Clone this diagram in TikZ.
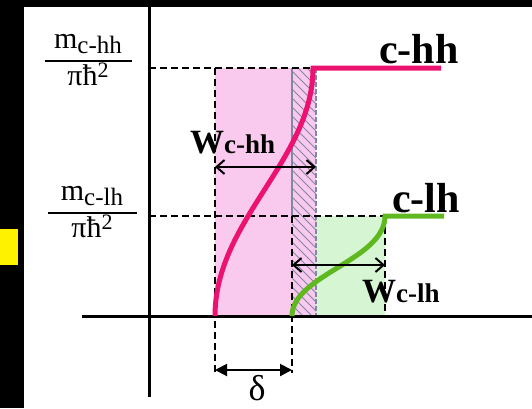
\documentclass[tikz,border=0pt]{standalone}
\usepackage{fontspec}
\setmainfont{Liberation Serif}
\usetikzlibrary{arrows.meta}

\definecolor{hhpink}{RGB}{236,18,112}
\definecolor{hhfill}{RGB}{250,202,238}
\definecolor{lhgreen}{RGB}{96,184,32}
\definecolor{lhfill}{RGB}{214,245,210}
\definecolor{hatchgrey}{RGB}{128,136,166}

\tikzset{
  axis/.style={black, line width=3pt},
  guide/.style={black, line width=2.4pt, dash pattern=on 7pt off 4pt},
  band/.style={line width=5pt},
  span/.style={line width=2pt, {Straight Barb[length=8pt,width=14pt,line width=2pt]}-{Straight Barb[length=8pt,width=14pt,line width=2pt]}},
  gap/.style={line width=2pt, {Triangle[length=12pt,width=12pt]}-{Triangle[length=12pt,width=12pt]}},
  frac/.style={inner sep=0pt, anchor=base, font=\fontsize{30}{30}\selectfont},
  tag/.style={inner sep=0pt, anchor=base west, font=\fontsize{42}{42}\selectfont\bfseries},
}

\begin{document}
\begin{tikzpicture}[x=1pt, y=-1pt]
\useasboundingbox (0,0) rectangle (532,408);
% screen frame
\fill[black] (0,0) rectangle (532,7);
\fill[black] (0,0) rectangle (24,408);
\fill[yellow] (0,229) rectangle (18,265);

\coordinate (O) at (149,316);
\coordinate (hhA) at (215,316);
\coordinate (hhB) at (313,68);
\coordinate (hhEnd) at (441,68);
\coordinate (lhA) at (292,316);
\coordinate (lhB) at (385,216);
\coordinate (lhEnd) at (444,216);

% filled bands
\fill[hhfill] (215,68) rectangle (316,316);
\fill[lhfill] (316,216) rectangle (385,316);
\begin{scope}
\clip (292,68) rectangle (316,316);
\foreach \k in {0,9,...,279}
  \draw[hatchgrey, line width=0.9pt] (292,44+\k) -- (316,68+\k);
\end{scope}
\draw[hatchgrey, line width=1.2pt] (292,68) -- (292,216);
\draw[hatchgrey, line width=1.5pt, dash pattern=on 5pt off 2pt] (316,68) -- (316,316);

% guide lines
\draw[guide] (149,68) -- (hhB);
\draw[guide] (149,216) -- (lhB);
\draw[guide] (215,68) -- (215,373);
\draw[guide] (292,216) -- (292,373);
\draw[guide] (lhB) -- (385,316);

% axes
\draw[axis] (149,7) -- (149,397);
\draw[axis] (82,316) -- (532,316);

% subband edges
\draw[band, hhpink] (hhA) .. controls (215,220) and (313,160) .. (hhB) -- (hhEnd);
\draw[band, lhgreen] (lhA) .. controls (292,275) and (385,260) .. (lhB) -- (lhEnd);

% widths
\draw[span] (215,167) -- (316,167);
\draw[span] (292,265) -- (385,265);
\draw[gap] (215,370) -- (292,370);

% labels
\node (mhh) [frac] at (88,48) {m\raisebox{-5pt}{\fontsize{25}{25}\selectfont c-hh}};
\node (dhh) [frac] at (88,85) {πħ\raisebox{8pt}{\fontsize{22}{22}\selectfont 2}};
\draw[line width=2pt] (45,61) -- (132,61);
\node (mlh) [frac] at (92,200) {m\raisebox{-5pt}{\fontsize{25}{25}\selectfont c-lh}};
\node (dlh) [frac] at (92,237) {πħ\raisebox{8pt}{\fontsize{22}{22}\selectfont 2}};
\draw[line width=2pt] (48,213) -- (137,213);

\node (thh) [tag] at (379,63) {c-hh};
\node (tlh) [tag] at (392,212) {c-lh};
\node (whh) [inner sep=0pt, anchor=base west] at (190,153) {\fontsize{34}{34}\selectfont\bfseries W\fontsize{27}{27}\selectfont c-hh};
\node (wlh) [inner sep=0pt, anchor=base west] at (362,302) {\fontsize{34}{34}\selectfont\bfseries W\fontsize{27}{27}\selectfont c-lh};
\node (delta) [inner sep=0pt, anchor=base] at (257,400) {\fontsize{36}{36}\selectfont δ};
\end{tikzpicture}
\end{document}
